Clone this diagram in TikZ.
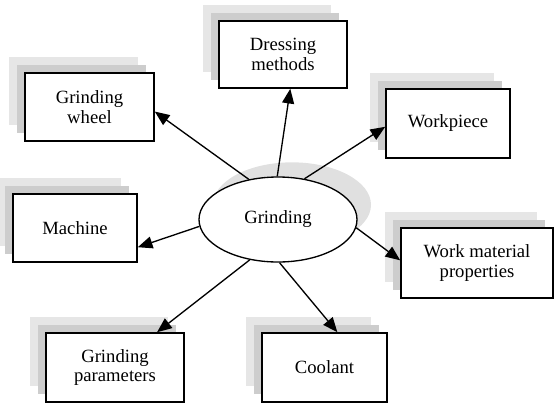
\documentclass[tikz,border=0pt]{standalone}
\usepackage{fontspec}
\setmainfont{Liberation Serif}
\usetikzlibrary{arrows.meta,shapes,shadows}
\definecolor{shadeLight}{RGB}{230,230,230}
\definecolor{shadeDark}{RGB}{205,205,205}
\definecolor{shadeRing}{RGB}{224,224,224}
\tikzset{
  factor/.style={draw, fill=white, line width=1.2pt, align=center, inner sep=0pt,
    general shadow={shadow scale=1, shadow xshift=-12pt, shadow yshift=12pt, fill=shadeLight, draw=none},
    general shadow={shadow scale=1, shadow xshift=-6pt, shadow yshift=6pt, fill=shadeDark, draw=none}},
  hub/.style={ellipse, draw, fill=white, line width=1pt, inner sep=0pt,
    general shadow={shadow scale=1, shadow xshift=10.5pt, shadow yshift=11pt, fill=shadeRing, draw=none}},
  link/.style={-{Triangle[length=11pt,width=9pt]}, line width=1pt}
}
\begin{document}
\begin{tikzpicture}[x=0.75pt, y=-0.75pt, font=\fontsize{14}{14.5}\selectfont]
    \useasboundingbox (0,0) rectangle (555,404);
    % Central process
    \node[hub, minimum width=118.5pt, minimum height=63.75pt] (grind) at (278,219.5) {Grinding};
    % Influencing factors
    \node[factor, minimum width=96.75pt, minimum height=51pt] (wheel) at (89.5,107) {Grinding\\wheel};
    \node[factor, minimum width=96pt, minimum height=50.25pt] (dress) at (283,54.5) {Dressing\\methods};
    \node[factor, minimum width=93pt, minimum height=51.75pt] (work) at (448,123.5) {Workpiece};
    \node[factor, minimum width=114pt, minimum height=52.5pt] (matl) at (477,263) {Work material\\properties};
    \node[factor, minimum width=93pt, minimum height=51pt] (mach) at (75,228) {Machine};
    \node[factor, minimum width=103.5pt, minimum height=51.75pt] (param) at (115,367.5) {Grinding\\parameters};
    \node[factor, minimum width=93.75pt, minimum height=51.75pt] (cool) at (324.5,367.5) {Coolant};
    % Arrows out of the hub
    \draw[link] (grind.126) -- (wheel.-4);
    \draw[link] (grind.91) -- (dress.-78);
    \draw[link] (grind.57) -- (work.183);
    \draw[link] (grind.-6) -- (matl.178);
    \draw[link] (grind.185) -- (mach.-17);
    \draw[link] (grind.235) -- (param.40);
    \draw[link] (grind.-88) -- (cool.70);
\end{tikzpicture}
\end{document}
